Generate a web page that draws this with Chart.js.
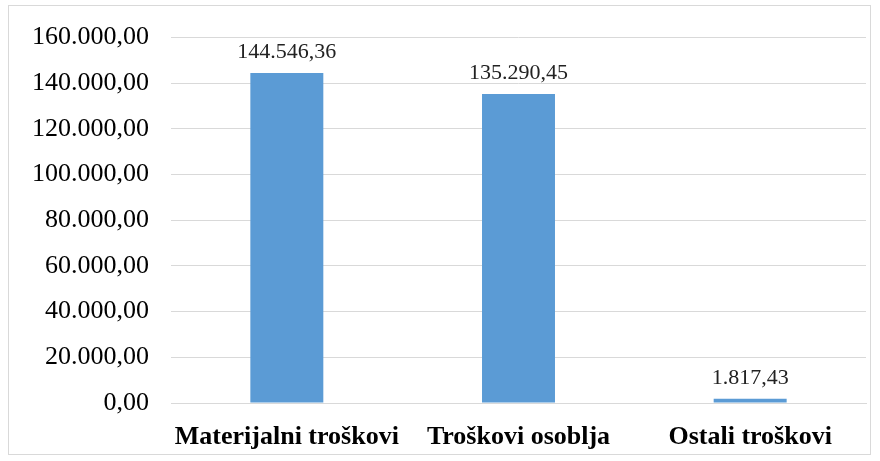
<!DOCTYPE html>
<html>
<head>
<meta charset="utf-8">
<script src="https://cdn.jsdelivr.net/npm/chart.js@4/dist/chart.umd.min.js"></script>
<style>
  html, body { margin: 0; padding: 0; background: #fff; }
  #wrap { position: relative; width: 880px; height: 461px; }
  #frame { position: absolute; left: 8px; top: 5px; width: 863px; height: 450px; border: 1px solid #d9d9d9; box-sizing: border-box; pointer-events: none; }
  canvas { position: absolute; left: 0; top: 0; }
</style>
</head>
<body>
<div id="wrap">
  <canvas id="costChart" width="880" height="461"></canvas>
  <div id="frame"></div>
</div>
<script>
const categories = ["Materijalni troškovi", "Troškovi osoblja", "Ostali troškovi"];
const costValues = [144546.36, 135290.45, 1817.43];
const yTicks = [0, 20000, 40000, 60000, 80000, 100000, 120000, 140000, 160000];

// 144546.36 -> "144.546,36"
function fmt(n) {
  const parts = n.toFixed(2).split(".");
  const intPart = parts[0].replace(/\B(?=(\d{3})+(?!\d))/g, ".");
  return intPart + "," + parts[1];
}

// vrijednosti iznad stupaca
const valueLabels = {
  id: "valueLabels",
  afterDatasetsDraw(chart) {
    const ctx = chart.ctx;
    const meta = chart.getDatasetMeta(0);
    ctx.save();
    ctx.font = "22px 'Liberation Serif', 'Times New Roman', serif";
    ctx.fillStyle = "#222";
    ctx.textAlign = "center";
    ctx.textBaseline = "alphabetic";
    meta.data.forEach((bar, i) => {
      ctx.fillText(fmt(costValues[i]), bar.x, bar.y - 15);
    });
    ctx.restore();
  }
};

new Chart(document.getElementById("costChart"), {
  type: "bar",
  data: {
    labels: categories,
    datasets: [{
      data: costValues,
      backgroundColor: "#5b9bd5",
      borderWidth: 0,
      categoryPercentage: 1,
      barPercentage: 0.315
    }]
  },
  options: {
    responsive: false,
    animation: false,
    layout: { padding: { top: 21, right: 14, bottom: 0, left: 0 } },
    plugins: { legend: { display: false }, tooltip: { enabled: false } },
    scales: {
      x: {
        grid: { display: false, drawTicks: false },
        border: { color: "#d9d9d9", width: 1 },
        ticks: {
          color: "#000",
          padding: 19,
          font: { family: "'Liberation Serif', 'Times New Roman', serif", size: 26, weight: "bold" }
        },
        afterFit(scale) { scale.height = 58; }
      },
      y: {
        min: 0,
        max: 160000,
        afterBuildTicks(scale) { scale.ticks = yTicks.map(v => ({ value: v })); },
        grid: { color: "#d9d9d9", drawTicks: false },
        border: { display: false },
        ticks: {
          color: "#000",
          padding: 22,
          font: { family: "'Liberation Serif', 'Times New Roman', serif", size: 26 },
          callback: v => fmt(v)
        },
        afterFit(scale) { scale.width = 171; }
      }
    }
  },
  plugins: [valueLabels]
});
</script>
</body>
</html>
